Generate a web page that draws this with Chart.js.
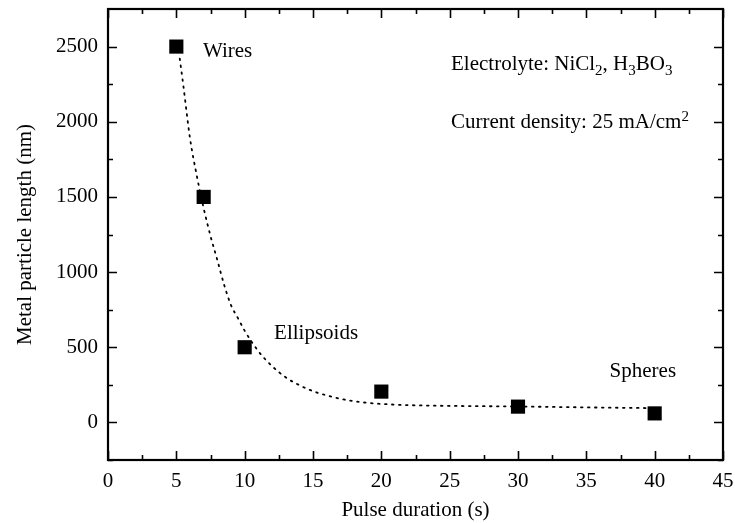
<!DOCTYPE html>
<html>
<head>
<meta charset="utf-8">
<script src="https://cdn.jsdelivr.net/npm/chart.js@4.4.1/dist/chart.umd.min.js"></script>
<style>
  html, body { margin: 0; padding: 0; background: #fff; }
  #wrap { width: 735px; height: 523px; }
</style>
</head>
<body>
<div id="wrap"><canvas id="chartLength" width="735" height="523"></canvas></div>
<script>
// measured points
const pulseDuration = [5, 7, 10, 20, 30, 40];
const particleLength = [2500, 1500, 500, 205, 105, 60];

// dotted fit curve
const fitX = [5.25, 5.5, 6, 6.5, 7, 7.5, 8, 8.5, 9, 9.5, 10, 11, 12, 13, 14, 15, 16, 17, 18, 19, 20, 22, 25, 30, 35, 40];
const fitY = [2420, 2250, 1890, 1640, 1425, 1240, 1080, 915, 780, 695, 610, 474, 375, 300, 248, 208, 180, 157, 141, 130, 123, 115, 110, 106, 100, 95];

// ticks
const xTicks = [0, 5, 10, 15, 20, 25, 30, 35, 40, 45];
const xMinor = [2.5, 7.5, 12.5, 17.5, 22.5, 27.5, 32.5, 37.5, 42.5];
const yTicks = [0, 500, 1000, 1500, 2000, 2500];
const yMinor = [-250, 250, 750, 1250, 1750, 2250];

// annotations: [text, 0 normal / 1 sub / -1 sup]
const notes = [
  { x: 6.95, y: 2467, parts: [['Wires', 0]] },
  { x: 25.1, y: 2380, parts: [['Electrolyte: NiCl', 0], ['2', 1], [', H', 0], ['3', 1], ['BO', 0], ['3', 1]] },
  { x: 25.1, y: 1995, parts: [['Current density: 25 mA/cm', 0], ['2', -1]] },
  { x: 12.15, y: 592, parts: [['Ellipsoids', 0]] },
  { x: 36.7, y: 339, parts: [['Spheres', 0]] }
];

const FONT = '"Liberation Serif", "Times New Roman", serif';

const frameTicks = {
  id: 'frameTicks',
  afterDatasetsDraw(chart) {
    const { ctx, chartArea: a, scales: { x, y } } = chart;
    ctx.save();
    ctx.strokeStyle = '#000';
    ctx.lineWidth = 1.6;
    ctx.beginPath();
    const tx = (v, len) => {
      const p = Math.round(x.getPixelForValue(v)) + 0.5;
      ctx.moveTo(p, a.bottom); ctx.lineTo(p, a.bottom - len);
      ctx.moveTo(p, a.top); ctx.lineTo(p, a.top + len);
    };
    const ty = (v, len) => {
      const p = Math.round(y.getPixelForValue(v)) + 0.5;
      ctx.moveTo(a.left, p); ctx.lineTo(a.left + len, p);
      ctx.moveTo(a.right, p); ctx.lineTo(a.right - len, p);
    };
    xTicks.forEach(v => tx(v, 9));
    xMinor.forEach(v => tx(v, 5));
    yTicks.forEach(v => ty(v, 9));
    yMinor.forEach(v => ty(v, 5));
    ctx.stroke();
    ctx.lineWidth = 2.2;
    ctx.strokeRect(a.left, a.top, a.right - a.left, a.bottom - a.top);

    // annotations
    ctx.fillStyle = '#000';
    ctx.textBaseline = 'middle';
    ctx.textAlign = 'left';
    notes.forEach(n => {
      let px = x.getPixelForValue(n.x);
      const py = y.getPixelForValue(n.y);
      n.parts.forEach(([t, s]) => {
        ctx.font = (s ? 15 : 21) + 'px ' + FONT;
        const dy = s === 1 ? 6 : s === -1 ? -5 : 0;
        ctx.fillText(t, px, py + dy);
        px += ctx.measureText(t).width;
      });
    });
    ctx.restore();
  }
};

const ctx = document.getElementById('chartLength').getContext('2d');
new Chart(ctx, {
  type: 'scatter',
  data: {
    datasets: [
      {
        label: 'fit',
        data: fitX.map((v, i) => ({ x: v, y: fitY[i] })),
        showLine: true,
        borderColor: '#000',
        borderWidth: 1.8,
        borderDash: [1.6, 5.4],
        borderCapStyle: 'round',
        cubicInterpolationMode: 'monotone',
        pointRadius: 0,
        fill: false,
        order: 2
      },
      {
        label: 'length',
        data: pulseDuration.map((v, i) => ({ x: v, y: particleLength[i] })),
        pointStyle: 'rect',
        pointRadius: 10,
        pointBorderWidth: 0,
        backgroundColor: '#000',
        borderColor: '#000',
        order: 1
      }
    ]
  },
  options: {
    responsive: false,
    animation: false,
    layout: { autoPadding: false, padding: { top: 9, right: 12, left: 0, bottom: 0 } },
    plugins: { legend: { display: false }, tooltip: { enabled: false } },
    scales: {
      x: {
        type: 'linear', min: 0, max: 45,
        grid: { display: false },
        border: { display: false },
        afterBuildTicks: s => { s.ticks = xTicks.map(v => ({ value: v })); },
        afterFit: s => { s.height = 63; s.paddingLeft = 0; s.paddingRight = 0; },
        ticks: { color: '#000', font: { family: FONT, size: 21 }, padding: 1, maxRotation: 0, callback: v => String(v) },
        title: { display: true, text: 'Pulse duration (s)', color: '#000', font: { family: FONT, size: 21, lineHeight: 1 }, padding: { top: 0, bottom: 2 } }
      },
      y: {
        type: 'linear', min: -250, max: 2750,
        grid: { display: false },
        border: { display: false },
        afterBuildTicks: s => { s.ticks = yTicks.map(v => ({ value: v })); },
        afterFit: s => { s.width = 108; s.paddingTop = 0; s.paddingBottom = 0; },
        ticks: { color: '#000', font: { family: FONT, size: 21 }, padding: 2, callback: v => String(v) },
        title: { display: true, text: 'Metal particle length (nm)', color: '#000', font: { family: FONT, size: 21, lineHeight: 1 }, padding: { top: 15, bottom: 0 } }
      }
    }
  },
  plugins: [frameTicks]
});
</script>
</body>
</html>
